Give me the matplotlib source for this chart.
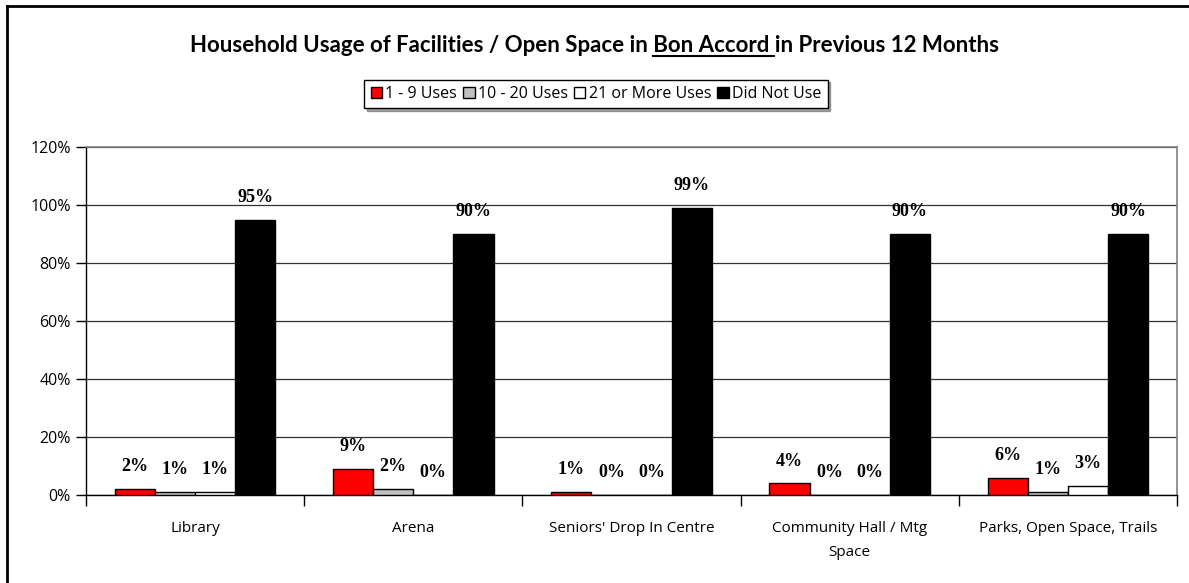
import matplotlib.pyplot as plt
from matplotlib.lines import Line2D
from matplotlib.patches import Rectangle
import numpy as np

# Data
facilities = ["Library", "Arena", "Seniors' Drop In Centre",
              "Community Hall / Mtg\nSpace", "Parks, Open Space, Trails"]
series_names = ["1 - 9 Uses", "10 - 20 Uses", "21 or More Uses", "Did Not Use"]
uses_1_9   = [2, 9, 1, 4, 6]
uses_10_20 = [1, 2, 0, 0, 1]
uses_21    = [1, 0, 0, 0, 3]
did_not    = [95, 90, 99, 90, 90]
y_ticks = [0, 20, 40, 60, 80, 100, 120]

colors = ["#ff0000", "#c0c0c0", "#ffffff", "#000000"]
series = [uses_1_9, uses_10_20, uses_21, did_not]

W, H = 1189, 583
fig = plt.figure(figsize=(W / 100, H / 100), dpi=100)
fig.patch.set_facecolor("white")

# outer chart frame (left and top edges visible)
fig.add_artist(Line2D([7 / W, 7 / W], [0, 1 - 6 / H], color="black", lw=2,
                      transform=fig.transFigure))
fig.add_artist(Line2D([7 / W, 1], [1 - 6 / H, 1 - 6 / H], color="black", lw=2,
                      transform=fig.transFigure))

ax = fig.add_axes([86 / W, 1 - 495 / H, (1177 - 86) / W, (495 - 147) / H])
ax.set_facecolor("white")

x = np.arange(len(facilities))
bw = 0.184
for i, (vals, col) in enumerate(zip(series, colors)):
    pos = x + (i - 1.5) * bw
    ax.bar(pos, vals, width=bw, color=col, edgecolor="black", linewidth=1.0,
           zorder=3, label=series_names[i])
    for px, v in zip(pos, vals):
        ax.annotate(f"{v}%", xy=(px, v), xytext=(0, 10), textcoords="offset points",
                    ha="center", va="bottom", fontsize=13, fontweight="bold",
                    family="Liberation Serif", color="black", zorder=4)

ax.set_xlim(-0.5, len(facilities) - 0.5)
ax.set_ylim(0, 120)
ax.set_yticks(y_ticks)
ax.set_yticklabels([f"{t}%" for t in y_ticks], fontsize=11.5, family="Open Sans")
ax.yaxis.grid(True, color="#333333", linewidth=0.9)
ax.set_axisbelow(True)

# category labels centred, tick marks at category boundaries
ax.set_xticks(x)
ax.set_xticklabels(facilities, fontsize=11, family="Open Sans", linespacing=1.75)
ax.tick_params(axis="x", which="major", length=0, pad=19)
ax.set_xticks(np.arange(-0.5, len(facilities)), minor=True)
ax.tick_params(axis="x", which="minor", length=8, width=1, color="black")
ax.tick_params(axis="y", length=7, width=1, color="black", pad=4)

for s in ["top", "right"]:
    ax.spines[s].set_color("#808080")
    ax.spines[s].set_linewidth(1.2)
for s in ["left", "bottom"]:
    ax.spines[s].set_color("black")
    ax.spines[s].set_linewidth(1.0)

# legend with drop shadow
handles = [Rectangle((0, 0), 1, 1, facecolor=c, edgecolor="black", lw=1) for c in colors]
leg = fig.legend(handles, series_names, loc="center", bbox_to_anchor=(596 / W, 1 - 94 / H),
                 ncol=4, frameon=True, fancybox=False, shadow=True,
                 prop={"family": "Open Sans", "size": 11.5}, handlelength=0.7,
                 handleheight=0.7, handletextpad=0.2, columnspacing=0.4,
                 borderpad=0.4, borderaxespad=0)
leg.get_frame().set_edgecolor("black")
leg.get_frame().set_linewidth(1.0)

# title with underlined place name
prefix = "Household Usage of Facilities / Open Space in "
place = "Bon Accord "
suffix = "in Previous 12 Months"
title_kw = dict(fontsize=16, fontweight="bold", family="Lato", va="baseline")
title_y = 1 - 52 / H
t = fig.text(0.5, title_y, prefix + place + suffix, ha="center", **title_kw)

fig.canvas.draw()
r = fig.canvas.get_renderer()
full = t.get_window_extent(r)
m1 = fig.text(0, 0, prefix, **title_kw)
m2 = fig.text(0, 0, prefix + place, **title_kw)
w1 = m1.get_window_extent(r).width
w2 = m2.get_window_extent(r).width
m1.remove()
m2.remove()
ux0 = (full.x0 + w1) / W
ux1 = (full.x0 + w2 - 1) / W
uy = title_y - 3.5 / H
fig.add_artist(Line2D([ux0, ux1], [uy, uy], color="black", lw=1.5,
                      transform=fig.transFigure))

fig.savefig("out.png", dpi=100)
